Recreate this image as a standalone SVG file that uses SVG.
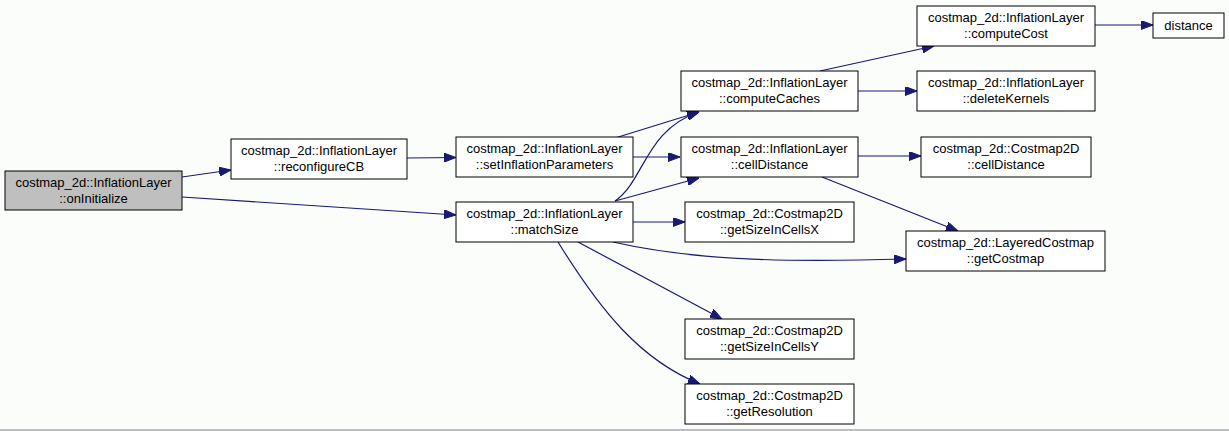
<svg xmlns="http://www.w3.org/2000/svg" width="1229" height="431" viewBox="0 0 1229 431">
<defs>
<style>
.n rect{fill:#ffffff;stroke:#000000;stroke-width:1}
.n text{font-family:"Liberation Sans",Arial,sans-serif;font-size:13px;fill:#000000;text-anchor:middle}
.e path{fill:none;stroke:#191970;stroke-width:1.2}
</style>
<marker id="a" viewBox="0 0 12 9" refX="12" refY="4.5" markerWidth="12" markerHeight="9" markerUnits="userSpaceOnUse" orient="auto">
<path d="M0,0 L12,4.5 L0,9 Z" fill="#191970" stroke="#191970"/>
</marker>
</defs>
<rect x="0" y="0" width="1229" height="431" fill="#fbfdfb"/>
<line x1="0" y1="430" x2="1229" y2="430" stroke="#a8a8b0" stroke-width="1.5"/>
<g class="e">
<path d="M182,177 L231,170" marker-end="url(#a)"/>
<path d="M182,197 L456,215" marker-end="url(#a)"/>
<path d="M407,158 L456,157.5" marker-end="url(#a)"/>
<path d="M615,138 L699,112" marker-end="url(#a)"/>
<path d="M633,157 L680,157" marker-end="url(#a)"/>
<path d="M615,201 C645,180 645,130 699,112" marker-end="url(#a)"/>
<path d="M615,201 L699,178" marker-end="url(#a)"/>
<path d="M633,222 L685,222" marker-end="url(#a)"/>
<path d="M613,242 C700,262 800,262 906,259" marker-end="url(#a)"/>
<path d="M578,242 L722,319" marker-end="url(#a)"/>
<path d="M558,242 C600,310 640,360 700,384" marker-end="url(#a)"/>
<path d="M820,71 L934,46" marker-end="url(#a)"/>
<path d="M857,91 L917,91" marker-end="url(#a)"/>
<path d="M857,156 L921,156" marker-end="url(#a)"/>
<path d="M822,177 L958,231" marker-end="url(#a)"/>
<path d="M1095,25 L1153,25" marker-end="url(#a)"/>
</g>
<g id="onInitialize" class="n"><rect x="5" y="171" width="177" height="39" style="fill:#bfbfbf"/><text x="93.5" y="187">costmap_2d::InflationLayer</text><text x="93.5" y="203">::onInitialize</text></g>
<g id="reconfigureCB" class="n"><rect x="231" y="139" width="176" height="40"/><text x="319" y="155">costmap_2d::InflationLayer</text><text x="319" y="171">::reconfigureCB</text></g>
<g id="setInflationParameters" class="n"><rect x="456" y="137" width="177" height="40"/><text x="544.5" y="153">costmap_2d::InflationLayer</text><text x="544.5" y="169">::setInflationParameters</text></g>
<g id="matchSize" class="n"><rect x="456" y="202" width="177" height="40"/><text x="544.5" y="218">costmap_2d::InflationLayer</text><text x="544.5" y="234">::matchSize</text></g>
<g id="computeCaches" class="n"><rect x="681" y="71" width="177" height="40"/><text x="769.5" y="87">costmap_2d::InflationLayer</text><text x="769.5" y="103">::computeCaches</text></g>
<g id="cellDistance" class="n"><rect x="681" y="137" width="177" height="40"/><text x="769.5" y="153">costmap_2d::InflationLayer</text><text x="769.5" y="169">::cellDistance</text></g>
<g id="getSizeInCellsX" class="n"><rect x="685" y="202" width="169" height="40"/><text x="769.5" y="218">costmap_2d::Costmap2D</text><text x="769.5" y="234">::getSizeInCellsX</text></g>
<g id="getSizeInCellsY" class="n"><rect x="685" y="319" width="169" height="40"/><text x="769.5" y="335">costmap_2d::Costmap2D</text><text x="769.5" y="351">::getSizeInCellsY</text></g>
<g id="getResolution" class="n"><rect x="685" y="384" width="169" height="40"/><text x="769.5" y="400">costmap_2d::Costmap2D</text><text x="769.5" y="416">::getResolution</text></g>
<g id="computeCost" class="n"><rect x="917" y="6" width="178" height="40"/><text x="1006" y="22">costmap_2d::InflationLayer</text><text x="1006" y="38">::computeCost</text></g>
<g id="deleteKernels" class="n"><rect x="917" y="71" width="178" height="40"/><text x="1006" y="87">costmap_2d::InflationLayer</text><text x="1006" y="103">::deleteKernels</text></g>
<g id="c2dCellDistance" class="n"><rect x="921" y="137" width="170" height="40"/><text x="1006" y="153">costmap_2d::Costmap2D</text><text x="1006" y="169">::cellDistance</text></g>
<g id="getCostmap" class="n"><rect x="906" y="231" width="199" height="40"/><text x="1005.5" y="247">costmap_2d::LayeredCostmap</text><text x="1005.5" y="263">::getCostmap</text></g>
<g id="distance" class="n"><rect x="1153" y="13" width="71" height="25"/><text x="1188.5" y="30">distance</text></g>
</svg>
